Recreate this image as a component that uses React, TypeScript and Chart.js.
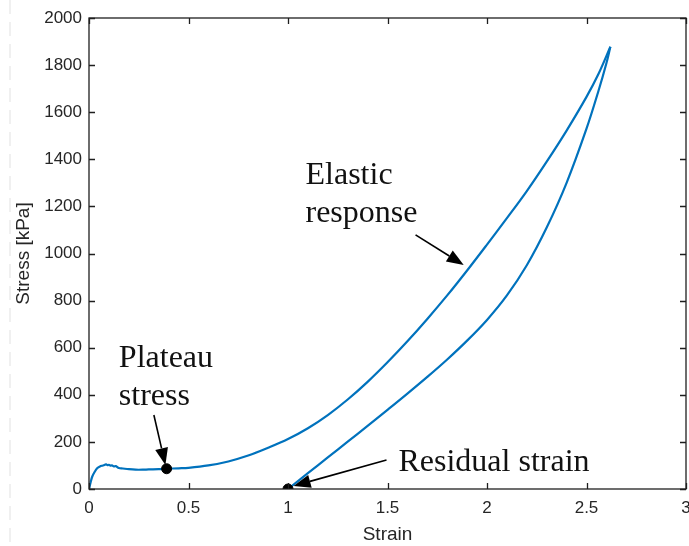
import React, { useEffect, useRef } from "react";
import { Chart, registerables } from "chart.js";
Chart.register(...registerables);

// Loading branch (strain, stress kPa)
const loadStrain = [0, 0.008, 0.016, 0.028, 0.041, 0.055, 0.07, 0.08, 0.086, 0.093, 0.1, 0.108, 0.115, 0.125, 0.135, 0.15, 0.17, 0.2, 0.234, 0.27, 0.3, 0.35, 0.39, 0.45, 0.5, 0.6, 0.7, 0.8, 0.9, 1.0, 1.1, 1.2, 1.3, 1.4, 1.5, 1.6, 1.7, 1.8, 1.9, 2.0, 2.1, 2.2, 2.3, 2.4, 2.5, 2.56, 2.62];
const loadStress = [0, 28, 52, 72, 88, 96, 100, 103, 105, 101, 103, 99, 100, 96, 97, 89, 87, 84, 82, 82, 83, 84, 86, 88, 90, 100, 117, 142, 175, 212, 258, 314, 380, 455, 538, 627, 722, 822, 928, 1038, 1150, 1265, 1390, 1522, 1665, 1762, 1878];

// Unloading branch
const unloadStrain = [2.62, 2.6, 2.56, 2.5, 2.4, 2.3, 2.2, 2.1, 2.0, 1.9, 1.8, 1.7, 1.6, 1.5, 1.4, 1.3, 1.2, 1.1, 1.0];
const unloadStress = [1878, 1808, 1690, 1530, 1300, 1110, 950, 822, 718, 630, 550, 476, 405, 336, 268, 201, 134, 67, 0];

// Highlighted points
const markerStrain = [0.39, 1.0];
const markerStress = [86, 0];

const xTickValues = [0, 0.5, 1, 1.5, 2, 2.5, 3];
const yTickValues = [0, 200, 400, 600, 800, 1000, 1200, 1400, 1600, 1800, 2000];

// Annotation text (anchored in data units: strain, stress at baseline-left)
const noteTexts = ["Plateau", "stress", "Elastic", "response", "Residual strain"];
const noteStrain = [0.15, 0.15, 1.088, 1.088, 1.555];
const noteStress = [519, 357, 1294, 1135, 76];

// Arrows (from -> to), data units
const arrowFromStrain = [0.326, 1.641, 1.495];
const arrowFromStress = [314, 1079, 123];
const arrowToStrain = [0.384, 1.883, 1.028];
const arrowToStress = [102, 951, 13];

const BLUE = "#0072BD";
const AXIS = "#262626";
const SANS = "'Liberation Sans', Arial, sans-serif";
const SERIF = "'Liberation Serif', 'Times New Roman', serif";

const toPts = (xs: number[], ys: number[]) => xs.map((x, i) => ({ x, y: ys[i] }));

const overlay = {
  id: "overlay",
  beforeDraw(chart: any) {
    const { ctx, height } = chart;
    ctx.save();
    ctx.strokeStyle = "#ececec";
    ctx.lineWidth = 1.5;
    ctx.setLineDash([14, 8]);
    ctx.beginPath();
    ctx.moveTo(10, 0);
    ctx.lineTo(10, height);
    ctx.stroke();
    ctx.restore();
  },
  afterDraw(chart: any) {
    const { ctx, chartArea: a, scales } = chart;
    const xs = scales.x;
    const ys = scales.y;
    ctx.save();
    // frame
    ctx.strokeStyle = "#1f1f1f";
    ctx.lineWidth = 1.3;
    ctx.strokeRect(a.left, a.top, a.right - a.left, a.bottom - a.top);
    // inside ticks
    const tl = 6;
    ctx.beginPath();
    xs.ticks.forEach((t: any) => {
      const px = Math.round(xs.getPixelForValue(t.value)) + 0.5;
      ctx.moveTo(px, a.bottom); ctx.lineTo(px, a.bottom - tl);
      ctx.moveTo(px, a.top); ctx.lineTo(px, a.top + tl);
    });
    ys.ticks.forEach((t: any) => {
      const py = Math.round(ys.getPixelForValue(t.value)) + 0.5;
      ctx.moveTo(a.left, py); ctx.lineTo(a.left + tl, py);
      ctx.moveTo(a.right, py); ctx.lineTo(a.right - tl, py);
    });
    ctx.stroke();

    // arrows
    ctx.strokeStyle = "#000";
    ctx.fillStyle = "#000";
    ctx.lineWidth = 1.6;
    for (let i = 0; i < arrowFromStrain.length; i++) {
      const x1 = xs.getPixelForValue(arrowFromStrain[i]);
      const y1 = ys.getPixelForValue(arrowFromStress[i]);
      const x2 = xs.getPixelForValue(arrowToStrain[i]);
      const y2 = ys.getPixelForValue(arrowToStress[i]);
      const ang = Math.atan2(y2 - y1, x2 - x1);
      const hl = 17, hw = 6.5;
      const bx = x2 - hl * Math.cos(ang);
      const by = y2 - hl * Math.sin(ang);
      ctx.beginPath();
      ctx.moveTo(x1, y1);
      ctx.lineTo(bx, by);
      ctx.stroke();
      ctx.beginPath();
      ctx.moveTo(x2, y2);
      ctx.lineTo(bx + hw * Math.sin(ang), by - hw * Math.cos(ang));
      ctx.lineTo(bx - hw * Math.sin(ang), by + hw * Math.cos(ang));
      ctx.closePath();
      ctx.fill();
    }

    // texts
    ctx.fillStyle = "#111";
    ctx.font = `32px ${SERIF}`;
    ctx.textAlign = "left";
    ctx.textBaseline = "alphabetic";
    noteTexts.forEach((t, i) => {
      ctx.fillText(t, xs.getPixelForValue(noteStrain[i]), ys.getPixelForValue(noteStress[i]));
    });
    ctx.restore();
  },
};

export default function App() {
  const ref = useRef<HTMLCanvasElement>(null);
  useEffect(() => {
    if (!ref.current) return;
    const chart = new Chart(ref.current, {
      type: "scatter",
      data: {
        datasets: [
          {
            data: toPts(markerStrain, markerStress),
            pointRadius: 5,
            pointBackgroundColor: "#000",
            pointBorderColor: "#000",
            showLine: false,
            order: 0,
          },
          {
            data: toPts(loadStrain, loadStress),
            showLine: true,
            borderColor: BLUE,
            borderWidth: 2.2,
            pointRadius: 0,
            tension: 0.35,
            order: 1,
          },
          {
            data: toPts(unloadStrain, unloadStress),
            showLine: true,
            borderColor: BLUE,
            borderWidth: 2.2,
            pointRadius: 0,
            tension: 0.35,
            order: 1,
          },
        ],
      },
      options: {
        animation: false,
        responsive: false,
        devicePixelRatio: 1,
        events: [],
        layout: { padding: { left: 0, right: 0, top: 18, bottom: 0 } },
        plugins: { legend: { display: false }, tooltip: { enabled: false } },
        scales: {
          x: {
            type: "linear",
            min: 0,
            max: 3,
            afterBuildTicks: (s: any) => { s.ticks = xTickValues.map((v) => ({ value: v })); },
            ticks: {
              font: { family: SANS, size: 17 },
              color: AXIS,
              padding: 9,
              maxRotation: 0,
              callback: (v: any) => String(v),
            },
            grid: { display: true, drawOnChartArea: false, drawTicks: false, color: "rgba(0,0,0,0)" },
            border: { display: false },
            title: { display: true, text: "Strain", font: { family: SANS, size: 19 }, color: AXIS, padding: { top: 4, bottom: 0 } },
            afterFit: (s: any) => { s.height = 57; s.paddingLeft = 0; s.paddingRight = 0; },
          },
          y: {
            type: "linear",
            min: 0,
            max: 2000,
            afterBuildTicks: (s: any) => { s.ticks = yTickValues.map((v) => ({ value: v })); },
            ticks: {
              font: { family: SANS, size: 17 },
              color: AXIS,
              padding: 7,
              callback: (v: any) => String(v),
            },
            grid: { display: true, drawOnChartArea: false, drawTicks: false, color: "rgba(0,0,0,0)" },
            border: { display: false },
            title: { display: true, text: "Stress [kPa]", font: { family: SANS, size: 19 }, color: AXIS, padding: { top: 12, bottom: 4 } },
            afterFit: (s: any) => { s.width = 89; s.paddingTop = 0; s.paddingBottom = 0; },
          },
        },
      },
      plugins: [overlay],
    } as any);
    return () => chart.destroy();
  }, []);
  return (
    <div style={{ position: "absolute", left: 0, top: 0, width: 689, height: 546, overflow: "hidden", background: "#fff" }}>
      <canvas ref={ref} width={692} height={546} style={{ display: "block" }} />
    </div>
  );
}
